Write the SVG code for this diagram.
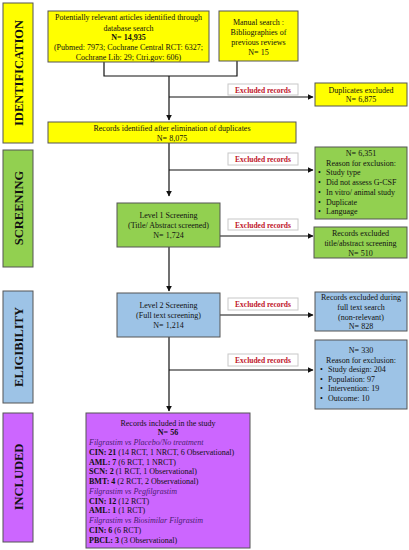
<svg xmlns="http://www.w3.org/2000/svg" width="409" height="550" viewBox="0 0 409 550">
<style>
text{font-family:"Liberation Serif","Times New Roman",serif;font-size:8px;fill:#111}
.c{text-anchor:middle}
.b{font-weight:bold}
.i{font-style:italic;fill:#4a2070}
.side{font-size:12.5px;font-weight:bold;text-anchor:middle}
.ex{font-size:7.5px;font-weight:bold;fill:#c0142a;text-anchor:middle}
.exb{fill:#fff;stroke:#c8c8c8;stroke-width:1}
.y{fill:#ffff00;stroke:#555;stroke-width:1}
.g{fill:#92d050;stroke:#555;stroke-width:1}
.bl{fill:#9dc3e6;stroke:#555;stroke-width:1}
.p{fill:#cc66ff;stroke:#555;stroke-width:1}
.ln{fill:none;stroke:#111;stroke-width:1.2}
</style>
<defs>
<marker id="ar" viewBox="0 0 10 10" refX="9" refY="5" markerWidth="6" markerHeight="6" markerUnits="userSpaceOnUse" orient="auto">
<path d="M0,0 L10,5 L0,10 z" fill="#111"/>
</marker>
</defs>
<rect width="409" height="550" fill="#fff"/>

<g id="side-identification"><rect class="y" x="3" y="3" width="30" height="140"/><text class="side" transform="translate(22.5,73) rotate(-90)">IDENTIFICATION</text></g>
<g id="side-screening"><rect class="g" x="3" y="150" width="30" height="117"/><text class="side" transform="translate(22.5,208) rotate(-90)">SCREENING</text></g>
<g id="side-eligibility"><rect class="bl" x="3" y="291" width="30" height="112"/><text class="side" transform="translate(22.5,347) rotate(-90)">ELIGIBILITY</text></g>
<g id="side-included"><rect class="p" x="3" y="413" width="30" height="129"/><text class="side" transform="translate(22.5,477) rotate(-90)">INCLUDED</text></g>

<g id="connectors">
<path class="ln" d="M104,62 V76 H237 V61"/>
<path class="ln" d="M169,76 V120" marker-end="url(#ar)"/>
<path class="ln" d="M169,97 H313" marker-end="url(#ar)"/>
<path class="ln" d="M169,143 V196" marker-end="url(#ar)"/>
<path class="ln" d="M169,170 H313" marker-end="url(#ar)"/>
<path class="ln" d="M220,236 H313" marker-end="url(#ar)"/>
<path class="ln" d="M169,247 V291" marker-end="url(#ar)"/>
<path class="ln" d="M220,315 H313" marker-end="url(#ar)"/>
<path class="ln" d="M169,337 V411" marker-end="url(#ar)"/>
<path class="ln" d="M169,370 H313" marker-end="url(#ar)"/>
</g>

<g id="ex1"><rect class="exb" x="228" y="84" width="70" height="11"/><text class="ex" x="263" y="92.5">Excluded records</text></g>
<g id="ex2"><rect class="exb" x="228" y="153" width="70" height="12"/><text class="ex" x="263" y="162">Excluded records</text></g>
<g id="ex3"><rect class="exb" x="228" y="219" width="70" height="11"/><text class="ex" x="263" y="227.5">Excluded records</text></g>
<g id="ex4"><rect class="exb" x="228" y="298" width="70" height="12"/><text class="ex" x="263" y="307">Excluded records</text></g>
<g id="ex5"><rect class="exb" x="228" y="354" width="70" height="12"/><text class="ex" x="263" y="363">Excluded records</text></g>

<g id="database">
<rect class="y" x="48" y="11" width="161" height="51"/>
<text class="c" x="128.5" y="20">Potentially relevant articles identified through</text>
<text class="c" x="128.5" y="30.5">database search</text>
<text class="c b" x="128.5" y="40">N= 14,935</text>
<text class="c" x="128.5" y="50">(Pubmed: 7973; Cochrane Central RCT: 6327;</text>
<text class="c" x="128.5" y="60">Cochrane Lib: 29; Ctri.gov: 606)</text>
</g>
<g id="manual">
<rect class="y" x="219" y="11" width="79" height="50"/>
<text class="c" x="258.5" y="25">Manual search :</text>
<text class="c" x="258.5" y="34.5">Bibliographies  of</text>
<text class="c" x="258.5" y="44.5">previous reviews</text>
<text class="c" x="258.5" y="54.5">N= 15</text>
</g>
<g id="duplicates">
<rect class="y" x="315" y="83" width="92" height="23"/>
<text class="c" x="361" y="93">Duplicates excluded</text>
<text class="c" x="361" y="102">N= 6,875</text>
</g>
<g id="identified">
<rect class="y" x="48" y="122" width="248" height="21"/>
<text class="c" x="172" y="131">Records identified after elimination of duplicates</text>
<text class="c" x="172" y="140.5">N= 8,075</text>
</g>
<g id="excl6351">
<rect class="g" x="315" y="147" width="92" height="72"/>
<text class="c" x="361" y="156">N= 6,351</text>
<text class="c" x="361" y="165.5">Reason for exclusion:</text>
<text x="318" y="175">•</text><text x="326" y="175">Study type</text>
<text x="318" y="185">•</text><text x="326" y="185">Did not assess G-CSF</text>
<text x="318" y="195">•</text><text x="326" y="195">In vitro/ animal study</text>
<text x="318" y="204.5">•</text><text x="326" y="204.5">Duplicate</text>
<text x="318" y="214">•</text><text x="326" y="214">Language</text>
</g>
<g id="level1">
<rect class="g" x="117" y="203" width="103" height="44"/>
<text class="c" x="168.5" y="218">Level 1 Screening</text>
<text class="c" x="168.5" y="228">(Title/ Abstract screened)</text>
<text class="c" x="168.5" y="237.5">N= 1,724</text>
</g>
<g id="excl510">
<rect class="g" x="314" y="227" width="93" height="31"/>
<text class="c" x="360.5" y="236">Records excluded</text>
<text class="c" x="360.5" y="246">title/abstract screening</text>
<text class="c" x="360.5" y="255.5">N= 510</text>
</g>
<g id="level2">
<rect class="bl" x="117" y="293" width="103" height="44"/>
<text class="c" x="168.5" y="308">Level 2 Screening</text>
<text class="c" x="168.5" y="318">(Full text screening)</text>
<text class="c" x="168.5" y="328">N= 1,214</text>
</g>
<g id="excl828">
<rect class="bl" x="315" y="292" width="92" height="39"/>
<text class="c" x="361" y="300">Records excluded during</text>
<text class="c" x="361" y="310">full text search</text>
<text class="c" x="361" y="320">(non-relevant)</text>
<text class="c" x="361" y="329">N= 828</text>
</g>
<g id="excl330">
<rect class="bl" x="315" y="340" width="92" height="69"/>
<text class="c" x="361" y="353">N= 330</text>
<text class="c" x="361" y="362.5">Reason for exclusion:</text>
<text x="320" y="372">•</text><text x="328" y="372">Study design: 204</text>
<text x="320" y="381.5">•</text><text x="328" y="381.5">Population: 97</text>
<text x="320" y="391">•</text><text x="328" y="391">Intervention: 19</text>
<text x="320" y="401">•</text><text x="328" y="401">Outcome: 10</text>
</g>
<g id="included">
<rect class="p" x="86" y="413" width="164" height="135"/>
<text class="c" x="168" y="426">Records included in the study</text>
<text class="c b" x="168" y="435">N= 56</text>
<text class="i" x="89" y="445">Filgrastim vs Placebo/No treatment</text>
<text x="89" y="455"><tspan class="b">CIN: 21</tspan> (14 RCT, 1 NRCT, 6 Observational)</text>
<text x="89" y="464.5"><tspan class="b">AML: 7</tspan> (6 RCT, 1 NRCT)</text>
<text x="89" y="474"><tspan class="b">SCN: 2</tspan> (1 RCT, 1 Observational)</text>
<text x="89" y="484"><tspan class="b">BMT: 4</tspan> (2 RCT, 2 Observational)</text>
<text class="i" x="89" y="494">Filgrastim vs Pegfilgrastim</text>
<text x="89" y="503.5"><tspan class="b">CIN: 12</tspan> (12 RCT)</text>
<text x="89" y="513"><tspan class="b">AML: 1</tspan> (1 RCT)</text>
<text class="i" x="89" y="523">Filgrastim vs Biosimilar Filgrastim</text>
<text x="89" y="533"><tspan class="b">CIN: 6</tspan> (6 RCT)</text>
<text x="89" y="542.5"><tspan class="b">PBCL: 3</tspan> (3 Observational)</text>
</g>
</svg>
